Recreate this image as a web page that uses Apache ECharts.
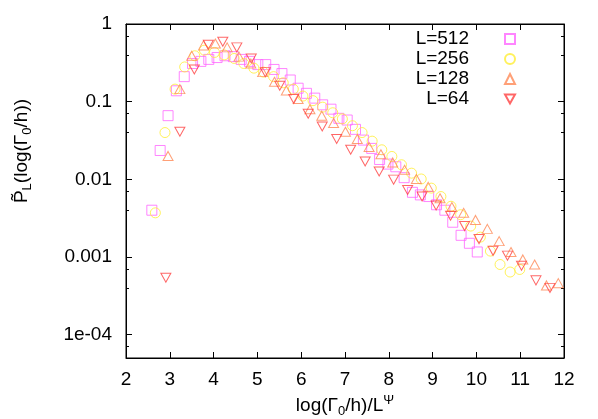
<!DOCTYPE html>
<html>
<head>
<meta charset="utf-8">
<script src="https://cdn.jsdelivr.net/npm/echarts@6/dist/echarts.min.js"></script>
<style>
  html, body { margin: 0; padding: 0; background: #fff; }
  #chart { width: 598px; height: 419px; }
</style>
</head>
<body>
<div id="chart"></div>
<script>
// values
const x512 = [2.59, 2.78, 2.96, 3.15, 3.33, 3.52, 3.71, 3.89, 4.08, 4.26, 4.45, 4.63, 4.82, 5.01, 5.19,
  5.38, 5.56, 5.75, 5.93, 6.12, 6.31, 6.49, 6.68, 6.86, 7.05, 7.24, 7.42, 7.61, 7.79, 7.98,
  8.16, 8.35, 8.54, 8.72, 8.91, 9.09, 9.28, 9.46, 9.65, 9.84, 10.02];
const y512 = [0.0040, 0.0235, 0.066, 0.138, 0.21, 0.31, 0.33, 0.35, 0.37, 0.39, 0.38, 0.35, 0.33, 0.30, 0.30,
  0.26, 0.23, 0.19, 0.149, 0.128, 0.111, 0.091, 0.080, 0.061, 0.058, 0.044, 0.032, 0.025, 0.018, 0.0157,
  0.0145, 0.0105, 0.0068, 0.0063, 0.0060, 0.0047, 0.0040, 0.0028, 0.0019, 0.0015, 0.00116];

const x256 = [2.67, 2.89, 3.12, 3.34, 3.57, 3.79, 4.02, 4.24, 4.47, 4.69, 4.92, 5.14, 5.37, 5.59, 5.82,
  6.04, 6.27, 6.49, 6.72, 6.94, 7.17, 7.39, 7.62, 7.84, 8.07, 8.29, 8.52, 8.74, 8.97, 9.19,
  9.42, 9.64, 9.87, 10.09, 10.32, 10.54, 10.77, 10.99];
const y256 = [0.0037, 0.040, 0.145, 0.28, 0.39, 0.46, 0.43, 0.40, 0.36, 0.31, 0.27, 0.24, 0.21, 0.175, 0.145,
  0.118, 0.103, 0.085, 0.072, 0.060, 0.049, 0.040, 0.031, 0.024, 0.0197, 0.0154, 0.012, 0.0101, 0.0077, 0.0060,
  0.0045, 0.0035, 0.0025, 0.0018, 0.00119, 0.0008, 0.00064, 0.00069];

const x128 = [2.96, 3.23, 3.50, 3.77, 4.04, 4.31, 4.58, 4.85, 5.12, 5.39, 5.66, 5.93, 6.20, 6.47, 6.74,
  7.01, 7.28, 7.55, 7.82, 8.09, 8.36, 8.63, 8.90, 9.17, 9.44, 9.71, 9.98, 10.25, 10.52, 10.79,
  11.06, 11.33, 11.60, 11.87];
const y128 = [0.020, 0.145, 0.39, 0.53, 0.56, 0.50, 0.38, 0.31, 0.24, 0.18, 0.139, 0.108, 0.080, 0.066, 0.053,
  0.041, 0.033, 0.026, 0.021, 0.0165, 0.0133, 0.0101, 0.0080, 0.0057, 0.0044, 0.0037, 0.0030, 0.0023, 0.0016, 0.00116,
  0.00093, 0.0008, 0.00043, 0.00046];

const x64 = [2.91, 3.23, 3.56, 3.88, 4.21, 4.53, 4.86, 5.18, 5.51, 5.83, 6.16, 6.48, 6.81, 7.13,
  7.46, 7.78, 8.11, 8.43, 8.76, 9.08, 9.41, 9.73, 10.06, 10.38, 10.71, 11.03, 11.36, 11.68];
const y64 = [0.00054, 0.041, 0.26, 0.54, 0.59, 0.50, 0.36, 0.24, 0.16, 0.108, 0.070, 0.048, 0.033, 0.024,
  0.017, 0.0126, 0.0099, 0.0073, 0.0060, 0.0046, 0.0034, 0.0025, 0.0017, 0.0012, 0.00104, 0.00077, 0.0005, 0.0004];

const seriesNames = ['L=512', 'L=256', 'L=128', 'L=64'];
// label per decade exponent: 0, -1, -2, -3, -4
const yTickLabels = ['1', '0.1', '0.01', '0.001', '1e-04'];

const FONT = '"Liberation Sans", Arial, sans-serif';

function pairs(xs, ys) {
  return xs.map((x, i) => [x, ys[i]]);
}

const chart = echarts.init(document.getElementById('chart'), null, { renderer: 'canvas' });

const nameRich = {
  t: { fontSize: 19, fontFamily: FONT, color: '#000', lineHeight: 22 },
  s: { fontSize: 13, fontFamily: FONT, color: '#000', lineHeight: 24, verticalAlign: 'bottom' },
  p: { fontSize: 13, fontFamily: FONT, color: '#000', lineHeight: 22, verticalAlign: 'top' }
};

const tickStyle = { inside: true, length: 6, lineStyle: { color: '#000', width: 1 } };

function hollow(color) {
  return { color: 'rgba(0,0,0,0)', borderColor: color, borderWidth: 1 };
}

const option = {
  animation: false,
  backgroundColor: '#fff',
  grid: {
    left: 126, right: 34, top: 24, bottom: 61,
    containLabel: false,
    outerBoundsMode: 'none',
    show: true, borderColor: '#000', borderWidth: 1, backgroundColor: 'rgba(0,0,0,0)'
  },
  legend: {
    orient: 'vertical',
    right: 82,
    top: 29,
    padding: 0,
    align: 'right',
    itemWidth: 10,
    itemHeight: 10,
    itemGap: 0,
    selectedMode: false,
    textStyle: { fontSize: 19, fontFamily: FONT, color: '#000', lineHeight: 20, padding: [0, 31, 0, 0] },
    data: seriesNames
  },
  xAxis: [{
    type: 'value',
    min: 2, max: 12, interval: 1,
    position: 'bottom',
    axisLine: { show: true, lineStyle: { color: '#000' } },
    axisTick: tickStyle,
    axisLabel: { fontSize: 19, fontFamily: FONT, color: '#000', margin: 12 },
    splitLine: { show: false },
    name: '{t|log(Γ}{s|0}{t|/h)/L}{p|Ψ}',
    nameLocation: 'middle',
    nameGap: 36,
    nameTextStyle: { rich: nameRich }
  }, {
    type: 'value',
    min: 2, max: 12, interval: 1,
    position: 'top',
    axisLine: { show: true, lineStyle: { color: '#000' } },
    axisTick: tickStyle,
    axisLabel: { show: false },
    splitLine: { show: false }
  }],
  yAxis: [{
    type: 'log',
    logBase: 10,
    min: 5e-5, max: 1,
    position: 'left',
    axisLine: { show: true, lineStyle: { color: '#000' } },
    axisTick: tickStyle,
    minorTick: { show: true, splitNumber: 3, length: 3, lineStyle: { color: '#000' } },
    axisLabel: {
      fontSize: 19, fontFamily: FONT, color: '#000', margin: 14,
      formatter: function (v) {
        const e = Math.log10(v);
        const r = Math.round(e);
        if (Math.abs(e - r) > 1e-6 || r > 0 || r < -4) return '';
        return yTickLabels[-r];
      }
    },
    splitLine: { show: false },
    name: '{t|P̃}{s|L}{t|(log(Γ}{s|0}{t|/h))}',
    nameLocation: 'middle',
    nameGap: 92,
    nameRotate: 90,
    nameTextStyle: { rich: nameRich, padding: [0, 0, 0, 80] }
  }, {
    type: 'log',
    logBase: 10,
    min: 5e-5, max: 1,
    position: 'right',
    axisLine: { show: true, lineStyle: { color: '#000' } },
    axisTick: tickStyle,
    minorTick: { show: true, splitNumber: 3, length: 3, lineStyle: { color: '#000' } },
    axisLabel: { show: false },
    splitLine: { show: false }
  }],
  series: [{
    name: 'L=512',
    type: 'scatter',
    symbol: 'rect',
    symbolSize: 10,
    itemStyle: hollow('#ff66ff'),
    data: pairs(x512, y512)
  }, {
    name: 'L=256',
    type: 'scatter',
    symbol: 'circle',
    symbolSize: 10,
    itemStyle: hollow('#ffee33'),
    data: pairs(x256, y256)
  }, {
    name: 'L=128',
    type: 'scatter',
    symbol: 'triangle',
    symbolSize: [10, 9],
    itemStyle: hollow('#ff8855'),
    data: pairs(x128, y128)
  }, {
    name: 'L=64',
    type: 'scatter',
    symbol: 'path://M0,0L10,0L5,9Z',
    symbolSize: [10, 9],
    itemStyle: hollow('#ff4040'),
    data: pairs(x64, y64)
  }]
};

chart.setOption(option);
</script>
</body>
</html>
